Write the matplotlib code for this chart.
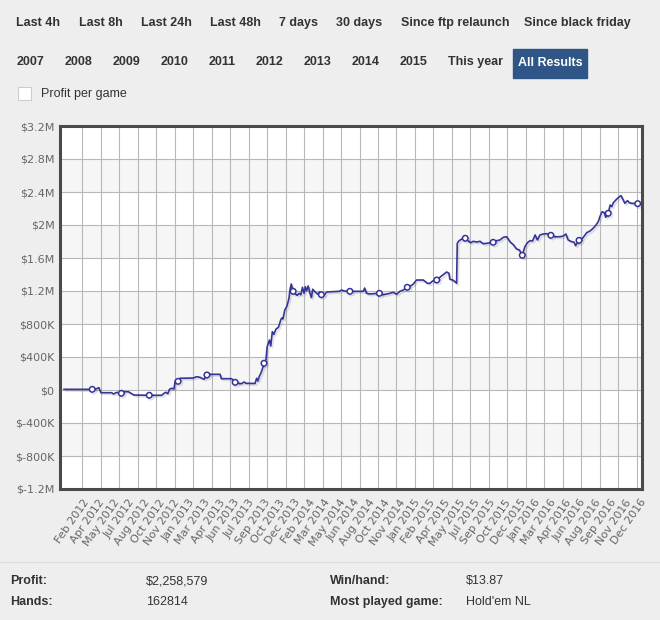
import numpy as np
import matplotlib.pyplot as plt
import matplotlib.patheffects as pe
from matplotlib.patches import Rectangle
from matplotlib.ticker import FuncFormatter

# days since the first session
days = [
    0, 88, 102, 109, 115, 149, 154, 159, 166, 173, 179, 185, 201, 211, 218,
    266, 305, 312, 318, 324, 329, 336, 343, 347, 356, 362, 403, 414, 424, 437,
    446, 456, 487, 491, 523, 534, 544, 554, 562, 568, 596, 601, 605, 609, 614,
    618, 624,
    630, 634, 641, 645, 650, 655, 661, 669, 677, 681, 683, 689, 695, 698, 702,
    705, 709, 715, 722, 728, 734, 739, 744, 749, 753, 757, 762, 768, 772, 776,
    783, 792, 797, 803, 811, 820, 859, 866, 874, 892, 934, 938, 944, 953, 984,
    996, 1017, 1027, 1038, 1048, 1059, 1071, 1085, 1090, 1100, 1121, 1134,
    1142, 1150, 1163, 1175, 1186, 1194, 1201, 1204, 1213, 1220, 1225, 1227,
    1233, 1241, 1252, 1263, 1269, 1277, 1288, 1298, 1308, 1319, 1329, 1339,
    1350, 1360, 1371, 1381, 1392, 1402, 1412, 1421, 1430,
    1438, 1446, 1454, 1462, 1470, 1477, 1485, 1495, 1506, 1519, 1532, 1548,
    1558, 1566, 1573, 1584, 1592, 1596, 1607, 1618, 1631, 1641, 1651, 1660,
    1667, 1672, 1679, 1686, 1690, 1698, 1704, 1709, 1714, 1724, 1733, 1738,
    1745, 1750, 1758, 1764, 1771, 1790,
]

# cumulative profit, thousands of dollars
profit_k = [
    8, 8, 16, 28, -33, -33, -48, -40, -28, -40, -40, -21, -21, -45, -61,
    -64, -64, -40, -28, -45, 8, 21, 12, 109, 105, 142, 145, 161, 154, 130,
    182, 190, 190, 137, 137, 93, 81, 76, 97, 81, 79, 142, 109, 161, 202,
    242, 324,
    364, 525, 606, 533, 707, 675, 736, 760, 857, 876, 861, 970, 1010, 1051,
    1111, 1212, 1285, 1196, 1164, 1148, 1172, 1155, 1245, 1172, 1252, 1204,
    1261, 1164, 1119, 1221, 1191, 1160, 1188, 1155, 1148, 1188, 1196, 1212,
    1200, 1196, 1196, 1236, 1172, 1164, 1172,
    1155, 1172, 1184, 1160, 1196, 1212, 1245, 1269, 1285, 1333, 1333, 1293,
    1293, 1321, 1333, 1373, 1406, 1430, 1415, 1342, 1333, 1313, 1293, 1778,
    1810, 1830, 1839, 1802, 1785, 1802, 1794, 1802, 1773, 1778, 1785, 1790,
    1810, 1818, 1851, 1858, 1794, 1761, 1709, 1697, 1633,
    1737, 1785, 1810, 1806, 1879, 1818, 1879, 1891, 1895, 1875, 1858, 1858,
    1867, 1891, 1818, 1798, 1790, 1749, 1814, 1839, 1907, 1927, 1960, 2000,
    2040, 2101, 2161, 2149, 2093, 2142, 2242, 2222, 2270, 2312, 2343, 2355,
    2303, 2263, 2295, 2270, 2263, 2258.579,
]

marker_days = [88, 179, 266, 356, 446, 534, 624, 715, 803, 892, 984, 1071,
               1163, 1252, 1339, 1430, 1519, 1607, 1698, 1790]

month_labels = [
    "Feb 2012", "Apr 2012", "May 2012", "Jul 2012", "Aug 2012", "Oct 2012",
    "Nov 2012", "Jan 2013", "Mar 2013", "Apr 2013", "Jun 2013", "Jul 2013",
    "Sep 2013", "Oct 2013", "Dec 2013", "Feb 2014", "Mar 2014", "May 2014",
    "Jun 2014", "Aug 2014", "Oct 2014", "Nov 2014", "Jan 2015", "Feb 2015",
    "Apr 2015", "May 2015", "Jul 2015", "Sep 2015", "Oct 2015", "Dec 2015",
    "Jan 2016", "Mar 2016", "Apr 2016", "Jun 2016", "Aug 2016", "Sep 2016",
    "Nov 2016", "Dec 2016",
]
y_ticks_k = np.arange(-1200, 3201, 400)

buttons_row1 = ["Last 4h", "Last 8h", "Last 24h", "Last 48h", "7 days",
                "30 days", "Since ftp relaunch", "Since black friday"]
buttons_row2 = ["2007", "2008", "2009", "2010", "2011", "2012", "2013",
                "2014", "2015", "This year"]
active_button = "All Results"

stats_left = [("Profit:", "$2,258,579"), ("Hands:", "162814")]
stats_right = [("Win/hand:", "$13.87"), ("Most played game:", "Hold'em NL")]

W, H = 660, 620


def fx(x):
    return x / W


def fy(y):
    return 1 - y / H


def money(v, pos):
    if v == 0:
        return "$0"
    if abs(v) >= 1000:
        return f"${v / 1000:g}M"
    return f"${v:g}K"


fig = plt.figure(figsize=(W / 100, H / 100), dpi=100, facecolor="#f8f8f8")

# page panels
fig.add_artist(Rectangle((0, fy(110)), 1, 110 / H, transform=fig.transFigure,
                         color="#eeeeee", zorder=-5))
fig.add_artist(Rectangle((0, 0), 1, 1 - fy(562), transform=fig.transFigure,
                         color="#eeeeee", zorder=-5))
fig.add_artist(plt.Line2D([0, 1], [fy(562), fy(562)], color="#dddddd", lw=0.8))

ui = dict(family=["Liberation Sans", "DejaVu Sans"], fontsize=9, color="#333333")
row1_x = [16, 79, 141, 210, 279, 336, 401, 524]
for label, x in zip(buttons_row1, row1_x):
    fig.text(fx(x), fy(23), label, va="center", weight="bold", **ui)
row2_x = [17, 65, 113, 161, 209, 256, 304, 352, 400, 448]
for label, x in zip(buttons_row2, row2_x):
    fig.text(fx(x), fy(62), label, va="center", weight="bold", **ui)
fig.add_artist(Rectangle((fx(513), fy(78)), fx(587) - fx(513), 29 / H,
                         transform=fig.transFigure, color="#2f5686"))
fig.text(fx(550), fy(62.5), active_button, ha="center", va="center",
         weight="bold", family=["Liberation Sans", "DejaVu Sans"],
         fontsize=9, color="white")
fig.add_artist(Rectangle((fx(18), fy(100)), 13 / W, 13 / H,
                         transform=fig.transFigure, facecolor="white",
                         edgecolor="#cccccc", lw=0.8))
fig.text(fx(41), fy(94), "Profit per game", va="center", **ui)

for (lab, val), y in zip(stats_left, [581, 602]):
    fig.text(fx(10), fy(y), lab, va="center", weight="bold", **ui)
    fig.text(fx(146), fy(y), val, va="center", **ui)
for (lab, val), y in zip(stats_right, [581, 602]):
    fig.text(fx(330), fy(y), lab, va="center", weight="bold", **ui)
    fig.text(fx(466), fy(y), val, va="center", **ui)

# chart
ax = fig.add_axes([fx(60), fy(489), fx(642) - fx(60), (489 - 126) / H])
ax.set_facecolor("white")
for lo in [2400, 1600, 800, 0, -800]:
    ax.axhspan(lo, lo + 400, color="#f6f6f6", zorder=0, lw=0)

idx = list(np.nonzero(np.isin(days, marker_days))[0])
ax.plot(days, profit_k, color="#34349a", lw=1.2, marker="o", markevery=idx,
        ms=4, mfc="white", mec="#34349a", mew=1.1, zorder=3,
        path_effects=[pe.SimpleLineShadow(offset=(1.2, -1.2), alpha=0.12,
                                          shadow_color="black"), pe.Normal()])

ax.set_xlim(-12.5, 1803.4)
ax.set_ylim(-1200, 3200)

label_pos = 59.3 + 46.97 * np.arange(len(month_labels))
grid_pos = 57.1 + 57.66 * np.arange(31)
ax.set_xticks(label_pos, month_labels)
ax.set_xticks(grid_pos, minor=True)
ax.set_yticks(y_ticks_k)
ax.yaxis.set_major_formatter(FuncFormatter(money))

ax.grid(False)
ax.xaxis.grid(True, which="minor", color="#b8b8b8", lw=0.8, zorder=1)
ax.yaxis.grid(True, which="major", color="#b8b8b8", lw=0.8, zorder=1)
ax.set_axisbelow(True)

ax.tick_params(axis="both", which="both", length=0, colors="#666666",
               labelsize=8)
ax.tick_params(axis="y", pad=4)
ax.tick_params(axis="x", pad=6)
for t in ax.get_xticklabels():
    t.set_rotation(55)
    t.set_ha("right")
    t.set_va("top")
    t.set_rotation_mode("anchor")

for s in ax.spines.values():
    s.set_color("#4a4a4a")
    s.set_linewidth(2.2)

fig.savefig("out.png", dpi=100, facecolor=fig.get_facecolor())
